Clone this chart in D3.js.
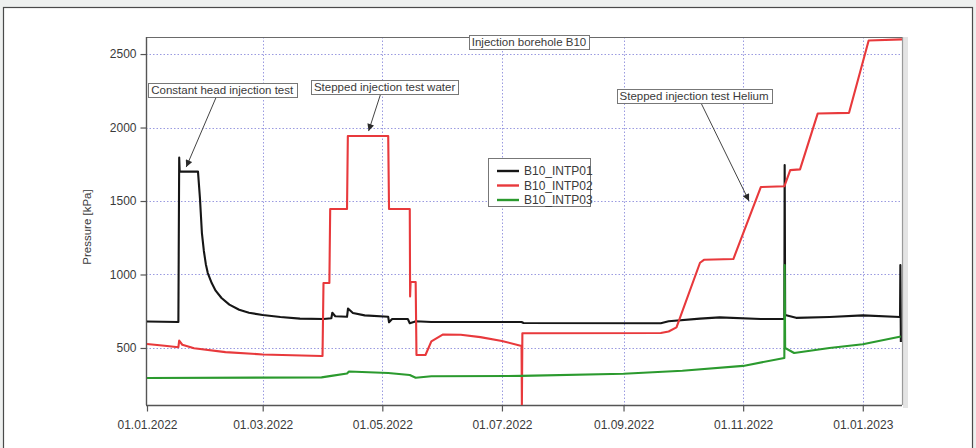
<!DOCTYPE html>
<html>
<head>
<meta charset="utf-8">
<script src="https://cdn.jsdelivr.net/npm/d3@7"></script>
<style>
  html, body { margin: 0; padding: 0; background: #eef0ef; }
  svg { display: block; }
  text { font-family: "Liberation Sans", Arial, sans-serif; fill: #3a3a3a; }
</style>
</head>
<body>
<svg id="chart" width="976" height="448"></svg>
<script>
// Pressure logs of injection borehole B10, one [date, kPa] pair per point
const seriesNames = ["B10_INTP01", "B10_INTP02", "B10_INTP03"];
const seriesColors = ["#161616", "#e8393c", "#2b9a2e"];

const intp01 = [
  ["2022-01-01", 680], ["2022-01-17", 677], ["2022-01-17T10", 1795], ["2022-01-17T16", 1700],
  ["2022-01-27", 1700], ["2022-01-28", 1520], ["2022-01-29", 1282], ["2022-01-30", 1160],
  ["2022-01-31", 1070], ["2022-02-01", 1010], ["2022-02-03", 942], ["2022-02-05", 890],
  ["2022-02-08", 840], ["2022-02-12", 795], ["2022-02-17", 760], ["2022-02-22", 740],
  ["2022-03-01", 724], ["2022-03-10", 711], ["2022-03-20", 700], ["2022-04-01", 697],
  ["2022-04-05", 702], ["2022-04-05T12", 740], ["2022-04-07", 716], ["2022-04-13", 712],
  ["2022-04-13T12", 768], ["2022-04-16", 738], ["2022-04-22", 722], ["2022-05-04", 712],
  ["2022-05-04T10", 675], ["2022-05-06", 697], ["2022-05-14", 697], ["2022-05-15", 668],
  ["2022-05-17", 676], ["2022-05-18", 682], ["2022-05-26", 677], ["2022-07-11", 677],
  ["2022-07-12", 670], ["2022-09-20", 668], ["2022-09-24", 682], ["2022-10-10", 700],
  ["2022-10-20", 708], ["2022-11-10", 697], ["2022-11-22", 697], ["2022-11-22T04", 1745],
  ["2022-11-22T10", 724], ["2022-11-28", 705], ["2022-12-15", 711], ["2023-01-01", 722],
  ["2023-01-20", 711], ["2023-01-20T04", 1065], ["2023-01-20T10", 540]
];

const intp02 = [
  ["2022-01-01", 527], ["2022-01-10", 515], ["2022-01-17", 505], ["2022-01-17T10", 550],
  ["2022-01-19", 522], ["2022-01-25", 498], ["2022-02-10", 472], ["2022-03-01", 456],
  ["2022-03-31", 445], ["2022-03-31T12", 445], ["2022-04-01", 942], ["2022-04-04", 942],
  ["2022-04-04T10", 1446], ["2022-04-13", 1446], ["2022-04-13T10", 1942], ["2022-05-04", 1942],
  ["2022-05-04T10", 1446], ["2022-05-15", 1446], ["2022-05-15T04", 850], ["2022-05-15T10", 949],
  ["2022-05-18", 949], ["2022-05-18T10", 452], ["2022-05-23", 452], ["2022-05-26", 545],
  ["2022-06-01", 592], ["2022-06-10", 590], ["2022-06-20", 574], ["2022-07-01", 548],
  ["2022-07-11", 514], ["2022-07-11T04", 112], ["2022-07-11T10", 600], ["2022-09-20", 602],
  ["2022-09-24", 612], ["2022-09-28", 640], ["2022-10-10", 1080], ["2022-10-12", 1100],
  ["2022-10-27", 1105], ["2022-11-10", 1595], ["2022-11-22", 1600], ["2022-11-25", 1710],
  ["2022-11-30", 1715], ["2022-12-09", 2095], ["2022-12-25", 2100], ["2023-01-04", 2592],
  ["2023-01-21", 2600]
];

const intp03 = [
  ["2022-01-01", 296], ["2022-03-31", 300], ["2022-04-05", 310], ["2022-04-13", 326],
  ["2022-04-14", 340], ["2022-05-04", 330], ["2022-05-15", 316], ["2022-05-18", 297],
  ["2022-05-26", 308], ["2022-07-11", 310], ["2022-09-01", 325], ["2022-10-01", 345],
  ["2022-11-01", 378], ["2022-11-22", 432], ["2022-11-22T04", 1065], ["2022-11-22T10", 500],
  ["2022-11-27", 466], ["2022-12-15", 500], ["2023-01-01", 525], ["2023-01-20T10", 578]
];

const xTickDates = ["2022-01-01", "2022-03-01", "2022-05-01", "2022-07-01", "2022-09-01", "2022-11-01", "2023-01-01"];
const yTickValues = [500, 1000, 1500, 2000, 2500];

// Annotation callouts: text plus the [date, kPa] point the arrow points at
const annotationTexts = ["Constant head injection test", "Stepped injection test water", "Stepped injection test Helium"];
const annotationTargets = [["2022-01-21", 1731], ["2022-04-24", 1976], ["2022-11-04", 1500]];

const chartTitle = "Injection borehole B10";
const yAxisTitle = "Pressure [kPa]";

// ---- layout ----
const plot = { left: 146, right: 902, top: 37, bottom: 405 };
const parse = s => new Date(s.length === 10 ? s + "T00:00:00" : s + ":00:00");

const svg = d3.select("#chart");

// white panel with a dark frame
svg.append("rect").attr("x", 3.5).attr("y", 7.5).attr("width", 969).attr("height", 460)
  .attr("fill", "#ffffff").attr("stroke", "#4a4a4a").attr("stroke-width", 1.2);

const x = d3.scaleTime()
  .domain([parse("2022-01-01"), parse("2023-01-21")])
  .range([147, 902]);
const y = d3.scaleLinear().domain([112, 2616]).range([plot.bottom, plot.top]);

// right-hand shadow strip next to the plot frame
svg.append("rect").attr("x", plot.right + 1).attr("y", plot.top).attr("width", 5)
  .attr("height", plot.bottom - plot.top + 3).attr("fill", "#e4e4e4");

// grid
const grid = svg.append("g");
grid.selectAll("line.gy").data(yTickValues).join("line")
  .attr("x1", plot.left).attr("x2", plot.right)
  .attr("y1", d => Math.round(y(d)) + 0.5).attr("y2", d => Math.round(y(d)) + 0.5)
  .attr("stroke", "#9a9ae0").attr("stroke-width", 1).attr("stroke-dasharray", "1.5,2");
grid.selectAll("line.gx").data(xTickDates.slice(1)).join("line")
  .attr("x1", d => Math.round(x(parse(d))) + 0.5).attr("x2", d => Math.round(x(parse(d))) + 0.5)
  .attr("y1", plot.top).attr("y2", plot.bottom)
  .attr("stroke", "#9a9ae0").attr("stroke-width", 1).attr("stroke-dasharray", "1.5,2");

// plot frame: top + right lighter, left + bottom are the axes
svg.append("line").attr("x1", plot.left).attr("x2", plot.right).attr("y1", plot.top + 0.5).attr("y2", plot.top + 0.5)
  .attr("stroke", "#6a6a6a").attr("stroke-width", 1.2);
svg.append("line").attr("x1", plot.right + 0.5).attr("x2", plot.right + 0.5).attr("y1", plot.top).attr("y2", plot.bottom)
  .attr("stroke", "#9a9a9a").attr("stroke-width", 1.2);

// axes
const yAxis = svg.append("g").attr("transform", `translate(${plot.left + 0.5},0)`)
  .call(d3.axisLeft(y).tickValues(yTickValues).tickSize(6).tickPadding(4).tickFormat(d3.format("d")));
const xAxis = svg.append("g").attr("transform", `translate(0,${plot.bottom + 0.5})`)
  .call(d3.axisBottom(x).tickValues(xTickDates.map(parse)).tickSize(6).tickPadding(9)
    .tickFormat(d3.timeFormat("%d.%m.%Y")));
[yAxis, xAxis].forEach(a => {
  a.select(".domain").attr("stroke", "#555").attr("stroke-width", 1.4);
  a.selectAll(".tick line").attr("stroke", "#555").attr("stroke-width", 1.2);
  a.selectAll(".tick text").attr("font-size", 12).attr("fill", "#3c3c3c")
    .attr("font-family", "'Liberation Sans', Arial, sans-serif");
});
// domain lines span the full plot frame
yAxis.select(".domain").attr("d", `M0,${plot.top}V${plot.bottom}`);
xAxis.select(".domain").attr("d", `M${plot.left},0H${plot.right}`);

svg.append("text").attr("transform", `translate(91,${(plot.top + plot.bottom) / 2 + 6}) rotate(-90)`)
  .attr("text-anchor", "middle").attr("font-size", 11.5).attr("fill", "#444").text(yAxisTitle);

// series
const clipId = "plotclip";
svg.append("clipPath").attr("id", clipId).append("rect")
  .attr("x", plot.left).attr("y", plot.top).attr("width", plot.right - plot.left).attr("height", plot.bottom - plot.top);
const line = d3.line().x(d => x(parse(d[0]))).y(d => y(d[1]));
const seriesData = [intp01, intp02, intp03];
svg.append("g").attr("clip-path", `url(#${clipId})`)
  .selectAll("path").data(seriesData).join("path")
  .attr("d", line).attr("fill", "none")
  .attr("stroke", (d, i) => seriesColors[i]).attr("stroke-width", 2.1)
  .attr("stroke-linejoin", "round").attr("stroke-linecap", "butt");

// boxed label helper
function boxedText(g, cx, cy, txt, size) {
  const t = g.append("text").attr("x", cx).attr("y", cy).attr("text-anchor", "middle")
    .attr("dominant-baseline", "central").attr("font-size", size).attr("fill", "#333").text(txt);
  const b = t.node().getBBox();
  g.insert("rect", "text").attr("x", Math.round(b.x - 3) + 0.5).attr("y", Math.round(b.y - 1) + 0.5)
    .attr("width", Math.round(b.width + 6)).attr("height", Math.round(b.height + 2))
    .attr("fill", "#fff").attr("stroke", "#777").attr("stroke-width", 1);
  return b;
}

// title box over the top frame
boxedText(svg.append("g"), 529, 42, chartTitle, 11.5);

// annotations
const defs = svg.append("defs");
defs.append("marker").attr("id", "arrowhead").attr("viewBox", "0 0 10 10")
  .attr("refX", 10).attr("refY", 5).attr("markerWidth", 10).attr("markerHeight", 7)
  .attr("markerUnits", "userSpaceOnUse").attr("orient", "auto")
  .append("path").attr("d", "M0,0L10,5L0,10z").attr("fill", "#2a2a2a");

// label centre offsets (px) from each arrow tip, and where the arrow leaves the box
const labelOffsets = [[36, -77], [16, -44], [-55, -105]];
const arrowStartShift = [-6, -4, 7];
annotationTexts.forEach((txt, i) => {
  const tx = x(parse(annotationTargets[i][0])), ty = y(annotationTargets[i][1]);
  const lx = tx + labelOffsets[i][0], ly = ty + labelOffsets[i][1];
  const g = svg.append("g");
  const b = boxedText(g, lx, ly, txt, 11.5);
  g.insert("line", "rect").attr("x1", lx + arrowStartShift[i]).attr("y1", b.y + b.height + 1)
    .attr("x2", tx).attr("y2", ty).attr("stroke", "#444").attr("stroke-width", 1)
    .attr("marker-end", "url(#arrowhead)");
});

// legend
const lg = svg.append("g");
const legX = 488, legY = 158;
lg.append("rect").attr("x", legX + 0.5).attr("y", legY + 0.5).attr("width", 102).attr("height", 48)
  .attr("fill", "#fff").attr("stroke", "#777");
seriesNames.forEach((name, i) => {
  const ry = legY + 13 + i * 14.5;
  lg.append("line").attr("x1", legX + 9).attr("x2", legX + 31).attr("y1", ry).attr("y2", ry)
    .attr("stroke", seriesColors[i]).attr("stroke-width", 2.4);
  lg.append("text").attr("x", legX + 36).attr("y", ry).attr("dominant-baseline", "central")
    .attr("font-size", 12).attr("fill", "#3a3a3a").text(name);
});
</script>
</body>
</html>
